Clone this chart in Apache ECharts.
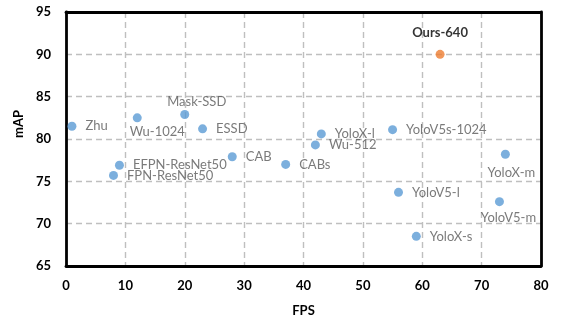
<!DOCTYPE html>
<html>
<head>
<meta charset="utf-8">
<script src="https://cdn.jsdelivr.net/npm/echarts@6/dist/echarts.min.js"></script>
<style>
  html, body { margin: 0; padding: 0; background: #fff; }
  #chart { width: 562px; height: 322px; }
</style>
</head>
<body>
<div id="chart"></div>
<script>
// Detectors compared by speed (FPS) and accuracy (mAP)
const methods = ['Zhu', 'Wu-1024', 'Mask-SSD', 'ESSD', 'CAB', 'EFPN-ResNet50', 'FPN-ResNet50',
  'YoloX-l', 'Wu-512', 'CABs', 'YoloV5s-1024', 'YoloX-m', 'YoloV5-l', 'YoloV5-m', 'YoloX-s'];
const fps = [1, 12, 20, 23, 28, 9, 8, 43, 42, 37, 55, 74, 56, 73, 59];
const mAP = [81.5, 82.5, 82.9, 81.2, 77.9, 76.9, 75.7, 80.6, 79.3, 77.0, 81.1, 78.2, 73.7, 72.6, 68.5];

const oursName = 'Ours-640';
const oursFps = 63;
const oursMAP = 90;

const xTicks = [0, 10, 20, 30, 40, 50, 60, 70, 80];
const yTicks = [65, 70, 75, 80, 85, 90, 95];

// Where each method's label sits relative to its dot
const labelPlacement = {
  'Wu-1024':  { position: 'bottom', distance: 3, offset: [20, 0] },
  'Mask-SSD': { position: 'top', distance: 2, offset: [12, 0] },
  'YoloX-m':  { position: 'bottom', distance: 8, offset: [6, 0] },
  'YoloV5-m': { position: 'bottom', distance: 5, offset: [9, 0] }
};

const labelFont = 'Lato, "Open Sans", sans-serif';

const points = methods.map((name, i) => {
  const p = labelPlacement[name] || { position: 'right', distance: 9, offset: [0, 0] };
  return {
    name: name,
    value: [fps[i], mAP[i]],
    label: { position: p.position, distance: p.distance, offset: p.offset }
  };
});

const chart = echarts.init(document.getElementById('chart'), null, { renderer: 'canvas' });

const splitStyle = {
  show: true, showMinLine: false, showMaxLine: false,
  lineStyle: { color: '#BFBFBF', width: 1.4, type: [6, 4] }
};
const tickLabel = { color: '#000', fontWeight: 'bold', fontSize: 13, fontFamily: labelFont };
const frameLine = { show: true, onZero: false, lineStyle: { color: '#000', width: 2.8 } };

chart.setOption({
  animation: false,
  backgroundColor: '#fff',
  grid: { left: 66, right: 21, top: 12, bottom: 54 },
  xAxis: [
    {
      type: 'value',
      min: xTicks[0], max: xTicks[xTicks.length - 1], interval: 10,
      name: 'FPS', nameLocation: 'middle', nameGap: 38,
      nameTextStyle: { color: '#000', fontWeight: 'bold', fontSize: 13, fontFamily: labelFont },
      axisLine: frameLine,
      axisTick: { show: false },
      axisLabel: Object.assign({ margin: 13 }, tickLabel),
      splitLine: splitStyle
    },
    {
      // top edge of the frame
      type: 'value', position: 'top',
      min: xTicks[0], max: xTicks[xTicks.length - 1], interval: 10,
      axisLine: frameLine, axisTick: { show: false }, axisLabel: { show: false }, splitLine: { show: false }
    }
  ],
  yAxis: [
    {
      type: 'value',
      min: yTicks[0], max: yTicks[yTicks.length - 1], interval: 5,
      name: 'mAP', nameLocation: 'middle', nameGap: 38,
      nameTextStyle: { color: '#000', fontWeight: 'bold', fontSize: 13, fontFamily: labelFont, padding: [0, 0, 0, 30] },
      axisLine: frameLine,
      axisTick: { show: false },
      axisLabel: Object.assign({ margin: 15 }, tickLabel),
      splitLine: splitStyle
    },
    {
      // right edge of the frame
      type: 'value', position: 'right',
      min: yTicks[0], max: yTicks[yTicks.length - 1], interval: 5,
      axisLine: frameLine, axisTick: { show: false }, axisLabel: { show: false }, splitLine: { show: false }
    }
  ],
  series: [
    {
      type: 'scatter',
      symbolSize: 9,
      itemStyle: { color: '#5B9BD5' },
      label: {
        show: true,
        formatter: '{b}',
        color: '#595959',
        fontSize: 13,
        fontFamily: labelFont
      },
      data: points
    },
    {
      type: 'scatter',
      symbolSize: 9,
      itemStyle: { color: '#ED7D31' },
      label: {
        show: true,
        formatter: '{b}',
        position: 'top',
        distance: 11,
        color: '#000',
        fontWeight: 'bold',
        fontSize: 13,
        fontFamily: labelFont
      },
      data: [{ name: oursName, value: [oursFps, oursMAP] }]
    }
  ]
});
</script>
</body>
</html>
